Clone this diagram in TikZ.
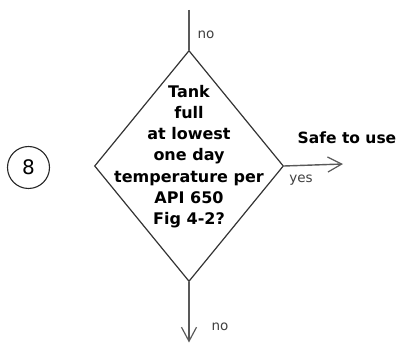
\documentclass[tikz,border=0pt]{standalone}
\usepackage{fontspec}
\setmainfont{DejaVu Sans}
\usepackage{tikz}
\usetikzlibrary{arrows.meta,shapes.geometric}

\begin{document}
\begin{tikzpicture}[x=1pt,y=1pt,>={Straight Barb[length=14pt,width=15pt,line width=1.2pt]},
  line/.style={draw=black!65,line width=1.4pt},
  lbl/.style={font=\fontsize{13.5}{15}\selectfont,text=black!75,inner sep=0pt}]
  \useasboundingbox (0,0) rectangle (400,343);
  \node[diamond,draw=black!80,line width=1.2pt,minimum width=189pt,minimum height=231pt,inner sep=0pt] (q8) at (189,177) {};
  \node[align=center,font=\fontsize{16}{21.2}\selectfont\bfseries,inner sep=0pt] (q8text) at (189,186.5)
    {Tank\\full\\at lowest\\one day\\temperature per\\API 650\\Fig 4-2?};
  \node[circle,draw=black!85,line width=1.1pt,minimum size=42pt,inner sep=0pt,font=\fontsize{20}{20}\selectfont] (n8) at (28.5,175.5) {8};
  \coordinate (in8) at (189,333);
  \coordinate (no8) at (189,0.5);
  \coordinate (yes8) at (343,179);
  \draw[line] (in8) -- (q8.north);
  \draw[line,->] (q8.south) -- (no8);
  \draw[line,->] (q8.east) -- (yes8);
  \node[lbl] (noin) at (206,308) {no};
  \node[lbl] (noout) at (220,16) {no};
  \node[lbl] (yes) at (301,163) {yes};
  \node[font=\fontsize{15.5}{18}\selectfont\bfseries,inner sep=0pt] (safe) at (347,205) {Safe to use};
\end{tikzpicture}
\end{document}
